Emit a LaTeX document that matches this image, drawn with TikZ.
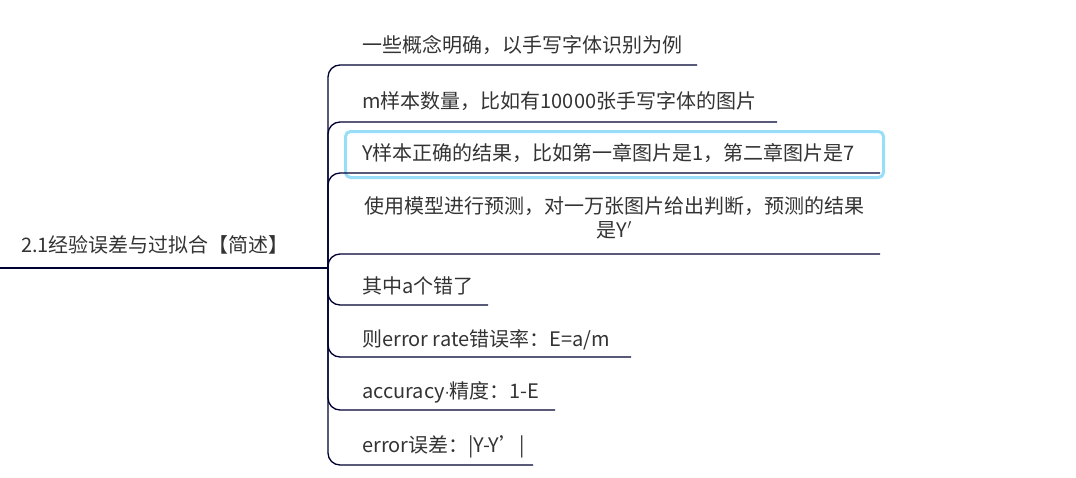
\documentclass[tikz,border=0pt]{standalone}
\usepackage{fontspec}
\setmainfont{Noto Sans CJK SC}[Ligatures=ResetAll]
\newfontfamily\dvs{DejaVu Sans}
\begin{document}
\begin{tikzpicture}[x=1pt,y=-1pt,
  lbl/.style={anchor=base west,inner sep=0,font=\fontsize{20}{26}\selectfont,text=black!80},
  br/.style={draw=black!80!blue,line width=1.3pt,rounded corners=12pt}]
\useasboundingbox (0,0) rectangle (1076,477);
\node[draw=cyan!40,line width=3pt,rounded corners=5pt,minimum width=538pt,minimum height=46pt,anchor=north west] (hl) at (344,130) {};
\node[lbl,anchor=base] (root) at (155,252) {2.1经验误差与过拟合【简述】};
\coordinate (r0) at (0,268);
\coordinate (r1) at (305,268);
\coordinate (t) at (328,268);
\draw[draw=black!80!blue,line width=1.2pt] (r0) -- (r1);
\draw[draw=black!80!blue,line width=2.5pt] (r1) -- (t);
\node[lbl] (c1) at (362,52) {一些概念明确，以手写字体识别为例};
\node[lbl] (c2) at (362,108) {m样本数量，比如有10000张手写字体的图片};
\node[lbl] (c3) at (362,160) {Y样本正确的结果，比如第一章图片是1，第二章图片是7};
\node[lbl,anchor=north west,align=center,text width=508pt,font=\fontsize{20}{24}\selectfont] (c4) at (360,196) {使用模型进行预测，对一万张图片给出判断，预测的结果\\是Y$'$};
\node[lbl] (c5) at (362,293) {其中a个错了};
\node[lbl] (c6) at (362,346) {则error rate错误率：E=a/m};
\node[lbl] (c7) at (362,398) {accuracy{\dvs\fontsize{15}{20}\selectfont ·}精度：1-E};
\node[lbl] (c8) at (362,452) {error误差：|Y-Y\symbol{39}|};
\foreach \n/\y/\e in {1/65/697,2/122/777,3/173/880,4/254/880,5/305/488,6/357/631,7/410/555,8/465/533}{
  \coordinate (e\n) at (\e,\y);
  \draw[br] (t) |- (e\n);
}
\end{tikzpicture}
\end{document}
